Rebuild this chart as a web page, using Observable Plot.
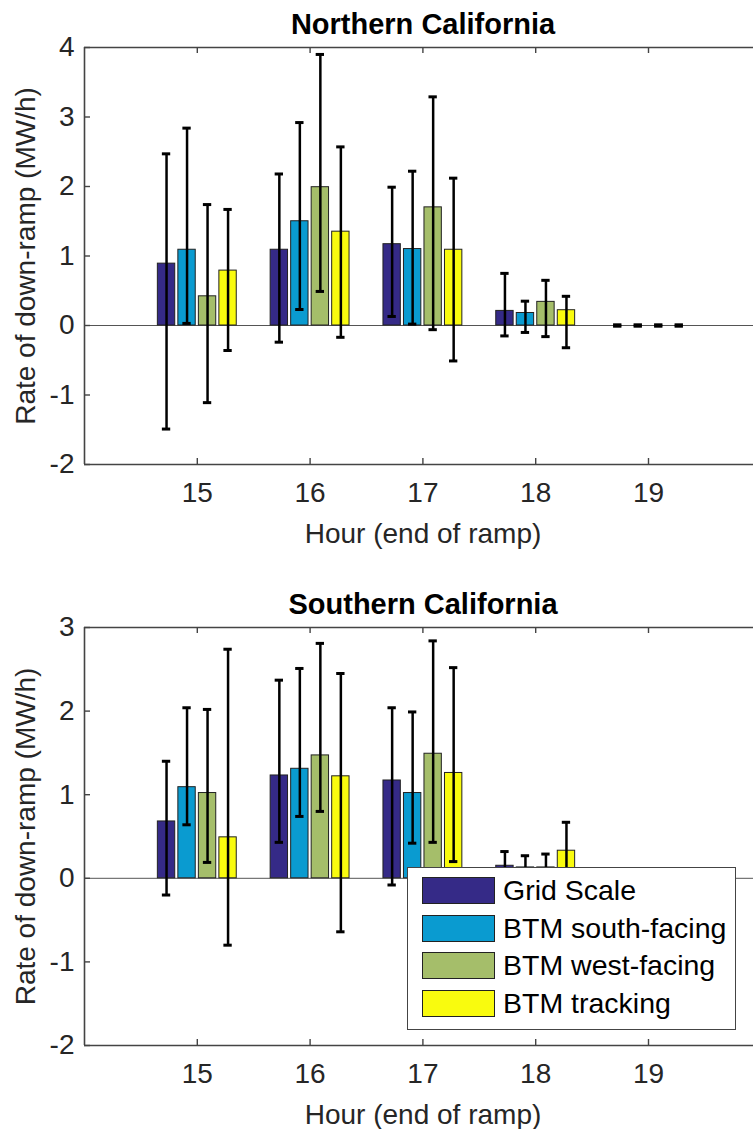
<!DOCTYPE html>
<html>
<head>
<meta charset="utf-8">
<script src="https://cdn.jsdelivr.net/npm/d3@7"></script>
<script src="https://cdn.jsdelivr.net/npm/@observablehq/plot@0.6"></script>
<style>
  html, body { margin: 0; padding: 0; background: #fff; overflow: hidden; }
  #wrap { position: relative; width: 753px; height: 1129px; overflow: hidden; background: #fff; }
  #p1, #p2 { position: absolute; left: 0; }
  #p1 { top: 0; }
  #p2 { top: 580px; }
  #legend { position: absolute; left: 407px; top: 867px; width: 327px; height: 161px;
    border: 1.5px solid #444; background: #fff; z-index: 5;
    font-family: "Liberation Sans", Arial, sans-serif; font-size: 28.5px; color: #000; }
  .row { position: absolute; left: 14px; height: 27px; display: flex; align-items: center; }
  .sw { width: 71px; height: 25px; border: 1px solid #222; margin-right: 8px; }
</style>
</head>
<body>
<div id="wrap">
  <div id="p1"></div>
  <div id="p2"></div>
  <div id="legend"></div>
</div>
<script>
// ---------- data ----------
const hours = [15, 16, 17, 18, 19];
const seriesNames = ["Grid Scale", "BTM south-facing", "BTM west-facing", "BTM tracking"];
const seriesColors = ["#352a87", "#0a9bd0", "#a5be6a", "#f9fb0e"];

// Northern California (rows = series, columns = hours)
const northMean = [
  [0.89, 1.09, 1.17, 0.21, 0.00],
  [1.09, 1.50, 1.10, 0.18, 0.00],
  [0.42, 1.99, 1.70, 0.34, 0.00],
  [0.79, 1.35, 1.09, 0.22, 0.00]
];
const northHigh = [
  [2.47, 2.18, 1.99, 0.75, 0.01],
  [2.84, 2.92, 2.22, 0.35, 0.01],
  [1.74, 3.90, 3.29, 0.65, 0.01],
  [1.67, 2.57, 2.12, 0.42, 0.01]
];
const northLow = [
  [-1.49, -0.24, 0.13, -0.15, -0.01],
  [0.03, 0.23, 0.02, -0.10, -0.01],
  [-1.11, 0.49, -0.06, -0.16, -0.01],
  [-0.36, -0.17, -0.51, -0.32, -0.01]
];

// Southern California
const southMean = [
  [0.68, 1.23, 1.17, 0.15, 0.00],
  [1.09, 1.31, 1.02, 0.13, 0.00],
  [1.02, 1.47, 1.49, 0.13, 0.00],
  [0.49, 1.22, 1.26, 0.33, 0.00]
];
const southHigh = [
  [1.40, 2.37, 2.04, 0.32, 0.01],
  [2.04, 2.51, 1.99, 0.27, 0.01],
  [2.02, 2.81, 2.84, 0.29, 0.01],
  [2.74, 2.45, 2.52, 0.67, 0.01]
];
const southLow = [
  [-0.20, 0.43, -0.08, -0.02, -0.01],
  [0.64, 0.74, 0.42, -0.01, -0.01],
  [0.19, 0.80, 0.43, -0.03, -0.01],
  [-0.80, -0.64, 0.20, 0.00, -0.01]
];

const northTicks = [-2, -1, 0, 1, 2, 3, 4];
const southTicks = [-2, -1, 0, 1, 2, 3];
const xLabel = "Hour (end of ramp)";
const yLabel = "Rate of down-ramp (MW/h)";

// ---------- drawing ----------
const W = 753, ML = 84, PW = W - ML;
const unitPx = 112.8;
const xMax = 14 + PW / unitPx;
const groupStep = 0.1818, barW = 0.154, capHalf = 0.037;
const font = "'Liberation Sans', Arial, Helvetica, sans-serif";
const axisColor = "#444";
const textColor = "#262626";

function panel(title, mean, low, high, yTicks, height, marginBottom) {
  const plotH = height - 47 - marginBottom;
  const rows = [];
  seriesNames.forEach((s, i) => hours.forEach((h, j) => rows.push({
    series: s, x: h + (i - 1.5) * groupStep, v: mean[i][j], lo: low[i][j], hi: high[i][j]
  })));
  const yDom = [yTicks[0], yTicks[yTicks.length - 1]];
  return Plot.plot({
    width: W, height, marginLeft: ML, marginRight: 0, marginTop: 47, marginBottom,
    style: {fontFamily: font, background: "white", overflow: "visible"},
    x: {domain: [14, xMax]},
    y: {domain: yDom},
    color: {domain: seriesNames, range: seriesColors},
    marks: [
      Plot.ruleY([0], {stroke: "#555", strokeWidth: 1}),
      Plot.rectY(rows, {x1: d => d.x - barW / 2, x2: d => d.x + barW / 2, y1: 0, y2: "v",
        fill: "series", stroke: "#222", strokeWidth: 1}),
      Plot.ruleX(rows, {x: "x", y1: "lo", y2: "hi", stroke: "black", strokeWidth: 2.5}),
      Plot.ruleY(rows, {y: "hi", x1: d => d.x - capHalf, x2: d => d.x + capHalf, stroke: "black", strokeWidth: 3}),
      Plot.ruleY(rows, {y: "lo", x1: d => d.x - capHalf, x2: d => d.x + capHalf, stroke: "black", strokeWidth: 3}),
      // axes box (left, top, bottom; right side cropped)
      Plot.ruleY(yDom, {stroke: axisColor, strokeWidth: 1.6}),
      Plot.ruleX([14], {stroke: axisColor, strokeWidth: 1.6}),
      // inward ticks
      Plot.tickX(hours, {x: d => d, insetTop: plotH - 6, stroke: axisColor, strokeWidth: 1.4}),
      Plot.tickX(hours, {x: d => d, insetBottom: plotH - 6, stroke: axisColor, strokeWidth: 1.4}),
      Plot.tickY(yTicks, {y: d => d, insetRight: PW - 6, stroke: axisColor, strokeWidth: 1.4}),
      Plot.axisX({ticks: hours, tickSize: 0, tickPadding: 18, fontSize: 28, fill: textColor, label: null, tickFormat: d => String(d)}),
      Plot.axisY({ticks: yTicks, tickSize: 0, tickPadding: 10, fontSize: 28, fill: textColor, label: null, tickFormat: d => String(d)}),
      Plot.text([title], {frameAnchor: "top", lineAnchor: "bottom", dy: -14, dx: 4, fontSize: 29, fontWeight: "bold", fill: "#000"}),
      Plot.text([xLabel], {frameAnchor: "bottom", lineAnchor: "bottom", dy: 78, dx: 4, fontSize: 28, fill: textColor}),
      Plot.text([yLabel], {frameAnchor: "left", textAnchor: "middle", rotate: -90, lineAnchor: "middle", dx: -58, fontSize: 28, fill: textColor})
    ]
  });
}

document.getElementById("p1").append(panel("Northern California", northMean, northLow, northHigh, northTicks, 580, 116));
document.getElementById("p2").append(panel("Southern California", southMean, southLow, southHigh, southTicks, 549, 84));

// legend
const leg = document.getElementById("legend");
seriesNames.forEach((s, i) => {
  const row = document.createElement("div");
  row.className = "row";
  row.style.top = (9 + i * 37.5) + "px";
  const sw = document.createElement("div");
  sw.className = "sw";
  sw.style.background = seriesColors[i];
  const t = document.createElement("span");
  t.textContent = s;
  row.append(sw, t);
  leg.append(row);
});
</script>
</body>
</html>
